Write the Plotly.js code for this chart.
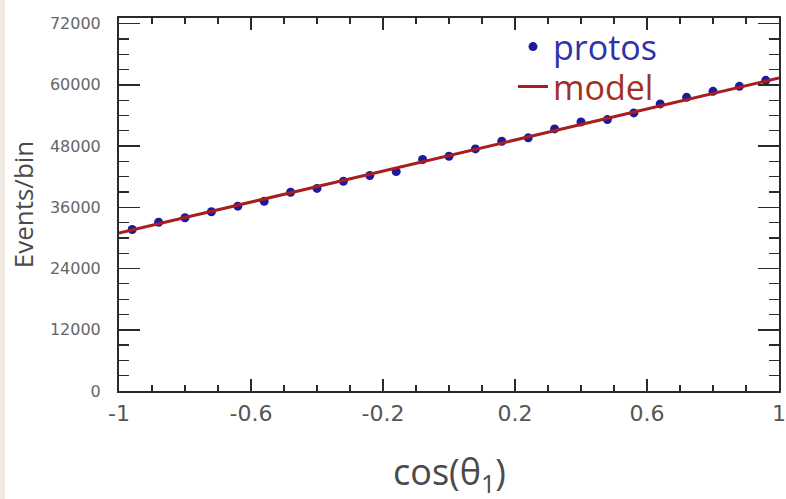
<!DOCTYPE html>
<html>
<head>
<meta charset="utf-8">
<script src="https://cdn.plot.ly/plotly-3.0.1.min.js"></script>
<style>
  html, body { margin: 0; padding: 0; background: #ffffff; }
  #chart { width: 781px; height: 499px; border-left: 5px solid #efeae4; }
</style>
</head>
<body>
<div id="chart"></div>
<script>
// Bin centres of cos(theta_1), 25 bins across [-1, 1]
const binCenters = [-0.96, -0.88, -0.80, -0.72, -0.64, -0.56, -0.48, -0.40, -0.32, -0.24,
                    -0.16, -0.08, 0.00, 0.08, 0.16, 0.24, 0.32, 0.40, 0.48, 0.56,
                    0.64, 0.72, 0.80, 0.88, 0.96];

// Generated events per bin
const protosCounts = [31650, 33080, 33950, 35120, 36220, 37190, 38960, 39700, 41110, 42230,
                      43000, 45360, 46000, 47450, 48940, 49610, 51370, 52740, 53190, 54500,
                      56260, 57550, 58730, 59710, 60880];

// Linear model curve end points
const modelX = [-1, 1];
const modelY = [30950, 61350];

// Axis tick labels
const xTickVals = [-1, -0.6, -0.2, 0.2, 0.6, 1];
const xTickText = ['-1', '-0.6', '-0.2', '0.2', '0.6', '1'];
const yTickVals = [0, 12000, 24000, 36000, 48000, 60000, 72000];
const yTickText = ['0', '12000', '24000', '36000', '48000', '60000', '72000'];

const frameColor = '#2a2a2a';
const labelGray = '#555555';
const legendFont = { family: 'Open Sans, sans-serif', size: 34, color: '#333' };

const traces = [
  {
    type: 'scatter',
    mode: 'markers',
    name: '<span style="color:#2d33a8">protos</span>',
    x: binCenters,
    y: protosCounts,
    marker: { color: '#1c1c9a', size: 9 },
    legend: 'legend',
    hoverinfo: 'x+y'
  },
  {
    type: 'scatter',
    mode: 'lines',
    name: '<span style="color:#a3301f">model</span>',
    x: modelX,
    y: modelY,
    line: { color: '#a81e1e', width: 3 },
    legend: 'legend2',
    hoverinfo: 'skip'
  }
];

const layout = {
  width: 781,
  height: 499,
  margin: { l: 114, r: 7, t: 18, b: 108, pad: 0 },
  paper_bgcolor: '#ffffff',
  plot_bgcolor: '#ffffff',
  showlegend: true,
  legend: {
    x: 0.597, y: 1.0, xanchor: 'left', yanchor: 'top',
    bgcolor: 'rgba(0,0,0,0)', borderwidth: 0, font: legendFont
  },
  legend2: {
    x: 0.597, y: 0.893, xanchor: 'left', yanchor: 'top',
    bgcolor: 'rgba(0,0,0,0)', borderwidth: 0, font: legendFont
  },
  // x-axis title, placed low in the bottom margin
  annotations: [{
    text: 'cos(θ<sub>1</sub>)',
    xref: 'paper', yref: 'paper',
    x: 0.5, y: -0.222, xanchor: 'center', yanchor: 'middle',
    showarrow: false,
    font: { family: 'Open Sans, sans-serif', size: 36, color: '#4a4a4a' }
  }],
  xaxis: {
    range: [-1, 1],
    tickmode: 'array', tickvals: xTickVals, ticktext: xTickText,
    ticks: 'inside', ticklen: 12, tickwidth: 1.5, tickcolor: frameColor,
    minor: { tickmode: 'linear', tick0: -1, dtick: 0.1, ticks: 'inside', ticklen: 6, tickwidth: 1.2, tickcolor: frameColor },
    showline: true, linecolor: frameColor, linewidth: 2, mirror: 'allticks',
    showgrid: false, zeroline: false,
    ticklabelstandoff: 2,
    tickfont: { family: 'DejaVu Sans, sans-serif', size: 22, color: labelGray }
  },
  yaxis: {
    range: [0, 73100],
    tickmode: 'array', tickvals: yTickVals, ticktext: yTickText,
    ticks: 'inside', ticklen: 21, tickwidth: 1.5, tickcolor: frameColor,
    minor: { tickmode: 'linear', tick0: 0, dtick: 3000, ticks: 'inside', ticklen: 10, tickwidth: 1.2, tickcolor: frameColor },
    showline: true, linecolor: frameColor, linewidth: 2, mirror: 'allticks',
    showgrid: false, zeroline: false,
    ticklabelstandoff: 13,
    tickfont: { family: 'DejaVu Sans, sans-serif', size: 16, color: '#666666' },
    title: {
      text: 'Events/bin',
      font: { family: 'Open Sans, sans-serif', size: 26, color: '#4a4a4a' },
      standoff: 10
    }
  }
};

Plotly.newPlot('chart', traces, layout, { displayModeBar: false, staticPlot: true });
</script>
</body>
</html>
